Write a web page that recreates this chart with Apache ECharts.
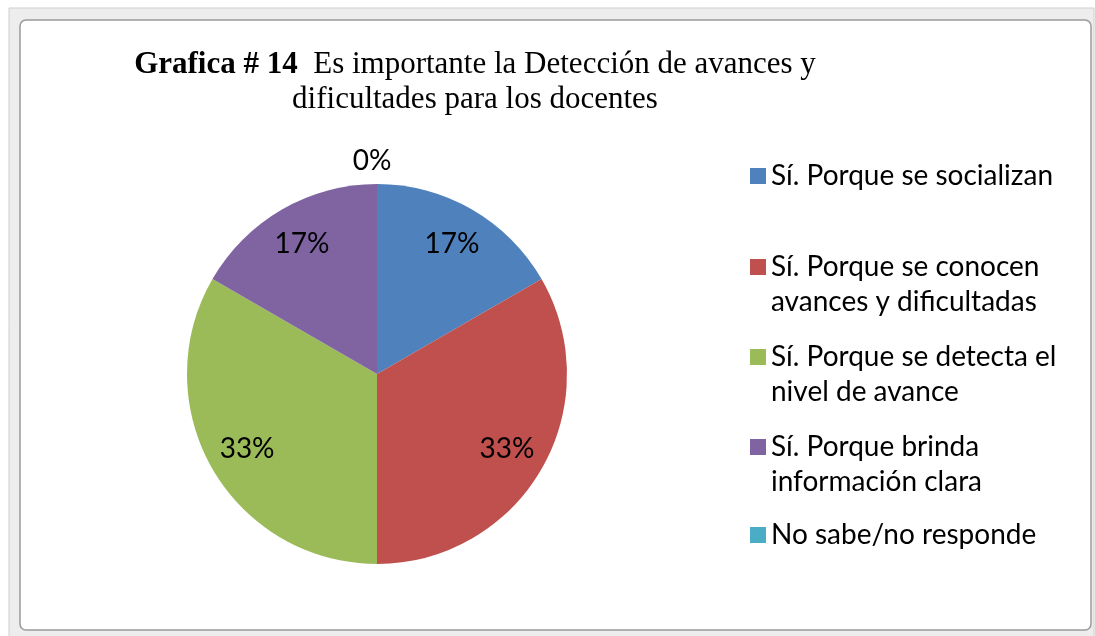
<!DOCTYPE html>
<html>
<head>
<meta charset="utf-8">
<script src="https://cdn.jsdelivr.net/npm/echarts@6/dist/echarts.min.js"></script>
<style>
  html, body { margin: 0; padding: 0; background: #ffffff; }
  #chart { width: 1095px; height: 636px; }
</style>
</head>
<body>
<div id="chart"></div>
<script>
/* =================================
   Grafica # 14 - datos
================================= */

var categories = [
  "Sí. Porque se socializan",
  "Sí. Porque se conocen avances y dificultadas",
  "Sí. Porque se detecta el nivel de avance",
  "Sí. Porque brinda información clara",
  "No sabe/no responde"
];
var legendLabels = [
  "Sí. Porque se socializan",
  "Sí. Porque se conocen\navances y dificultadas",
  "Sí. Porque se detecta el\nnivel de avance",
  "Sí. Porque brinda\ninformación clara",
  "No sabe/no responde"
];
var values = [1, 2, 2, 1, 0];
var colors = ["#4F81BD", "#C0504D", "#9BBB59", "#8064A2", "#4BACC6"];

// centro de la primera linea de cada leyenda (px)
var legendLineY = [176, 267, 357, 447, 535];
var LINE_H = 35;
var FONT = "Lato, 'Open Sans', sans-serif";
var SERIF = "'Liberation Serif', 'DejaVu Serif', serif";

window.addEventListener("load", function() {
  var chart = echarts.init(document.getElementById("chart"));

  var mainData = categories.map(function(name, i) {
    var d = { name: name, value: values[i], itemStyle: { color: colors[i] } };
    if (values[i] === 0) {
      d.label = { show: true, position: "outside" };
    }
    return d;
  });

  var labelData = categories.map(function(name, i) {
    return { name: name, value: values[i], label: { show: values[i] > 0 } };
  });

  var legends = categories.map(function(name, i) {
    var multi = legendLabels[i].indexOf("\n") >= 0;
    return {
      orient: "vertical",
      left: 750,
      top: multi ? legendLineY[i] - LINE_H * 1.5 : legendLineY[i] - LINE_H / 2,
      padding: 0,
      itemWidth: 16,
      itemHeight: 16,
      icon: "rect",
      selectedMode: false,
      data: [name],
      formatter: function() {
        return (multi ? "\n" : "") + legendLabels[i];
      },
      textStyle: { fontFamily: FONT, fontSize: 28, color: "#000", lineHeight: LINE_H }
    };
  });

  chart.setOption({
    animation: false,
    graphic: [
      { type: "rect", shape: { x: 9, y: 8, width: 1085, height: 630 },
        style: { fill: "#ededed", stroke: "#cfcfcf", lineWidth: 1 }, silent: true },
      { type: "rect", shape: { x: 20, y: 20, width: 1071, height: 610, r: 6 },
        style: { fill: "#ffffff", stroke: "#9a9a9a", lineWidth: 1.5 }, silent: true }
    ],
    title: {
      text: "{b|Grafica # 14}  Es importante la Detección de avances y\ndificultades para los docentes",
      left: 475,
      top: 47,
      textAlign: "center",
      padding: 0,
      textStyle: {
        fontFamily: SERIF, fontSize: 31, fontWeight: "normal", color: "#000", lineHeight: 35,
        rich: {
          b: { fontFamily: SERIF, fontSize: 31, fontWeight: "bold", color: "#000", lineHeight: 35 }
        }
      }
    },
    legend: legends,
    series: [{
      type: "pie",
      center: [377, 374],
      radius: [0, 190],
      startAngle: 90,
      clockwise: true,
      avoidLabelOverlap: false,
      percentPrecision: 0,
      silent: true,
      label: {
        show: false,
        formatter: function(p) { return p.percent + "%"; },
        fontFamily: FONT, fontSize: 28, color: "#000"
      },
      labelLine: { show: false, length: 23, length2: 0 },
      labelLayout: function(p) {
        if (values[p.dataIndex] === 0) return { align: "center" };
      },
      itemStyle: { borderWidth: 0 },
      data: mainData
    }, {
      // serie transparente solo para colocar los porcentajes a ~0.77 del radio
      type: "pie",
      center: [377, 374],
      radius: [0, 294],
      startAngle: 90,
      clockwise: true,
      percentPrecision: 0,
      silent: true,
      avoidLabelOverlap: false,
      itemStyle: { color: "rgba(0,0,0,0)", borderWidth: 0 },
      emphasis: { disabled: true },
      label: {
        position: "inside",
        formatter: function(p) { return p.percent + "%"; },
        fontFamily: FONT, fontSize: 28, color: "#000"
      },
      labelLine: { show: false },
      data: labelData
    }]
  });
});
</script>
</body>
</html>
